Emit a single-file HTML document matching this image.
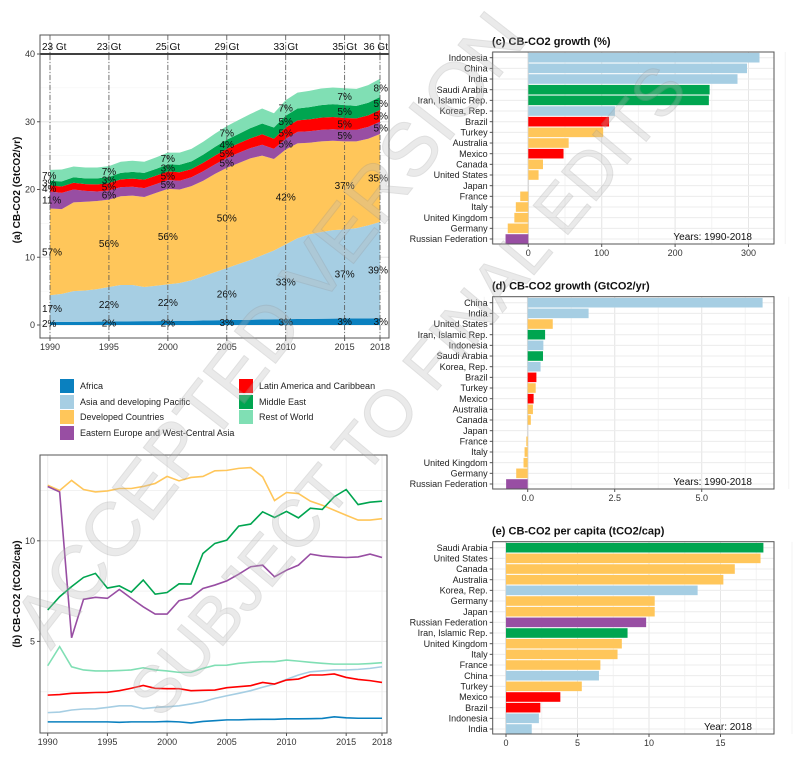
<!DOCTYPE html>
<html><head><meta charset="utf-8"><style>
html,body{margin:0;padding:0;background:#fff;overflow:hidden}
svg{display:block;font-family:"Liberation Sans",Arial,sans-serif}
</style></head><body>
<svg id="fig" width="795" height="784" viewBox="0 0 795 784" xmlns="http://www.w3.org/2000/svg"></svg>
<script>
const years=[];for(let y=1990;y<=2018;y++)years.push(y);
const regions=["Africa","Asia and developing Pacific","Developed Countries","Eastern Europe and West-Central Asia","Latin America and Caribbean","Middle East","Rest of World"];
const regionColors=["#0a80bf","#a6cee3","#ffc65a","#984ea3","#ff0000","#00a550","#80dfb4"];
// Panel (a) absolute emissions GtCO2/yr
const africaA=[0.45,0.46,0.47,0.48,0.5,0.52,0.53,0.55,0.57,0.58,0.6,0.62,0.63,0.66,0.7,0.73,0.75,0.78,0.82,0.84,0.86,0.88,0.9,0.92,0.95,0.96,0.97,0.98,1.0];
const asiaA=[3.95,4.14,4.53,4.62,4.8,5.08,5.37,5.35,5.03,5.22,5.4,5.58,5.97,6.54,7.1,7.67,8.25,8.82,9.48,10.16,11.04,11.92,12.5,12.78,13.05,13.14,13.33,13.72,14.2];
const devA=[12.8,12.5,13.1,13.1,13.0,12.9,13.1,13.2,13.3,13.7,14.1,13.8,13.9,14.1,14.5,14.8,14.9,15.0,14.7,13.5,14.0,14.0,13.5,13.4,13.2,13.0,12.8,12.8,13.0];
const eecaA=[2.5,2.4,1.9,1.6,1.4,1.35,1.35,1.3,1.3,1.3,1.3,1.3,1.3,1.4,1.4,1.45,1.5,1.5,1.6,1.5,1.6,1.7,1.7,1.7,1.7,1.7,1.7,1.75,1.8];
const latamA=[0.9,0.95,1.0,1.0,1.05,1.1,1.15,1.2,1.25,1.25,1.25,1.25,1.2,1.25,1.3,1.35,1.4,1.45,1.55,1.5,1.65,1.7,1.75,1.8,1.8,1.75,1.7,1.7,1.75];
const meA=[0.7,0.75,0.8,0.85,0.9,0.9,0.95,1.0,1.0,1.0,1.05,1.1,1.15,1.2,1.3,1.35,1.4,1.5,1.6,1.65,1.75,1.75,1.8,1.85,1.9,1.9,1.85,1.85,1.9];
const rowA=[1.6,1.75,1.6,1.6,1.6,1.6,1.65,1.65,1.65,1.7,1.75,1.8,1.85,1.9,1.95,2.0,2.05,2.1,2.2,2.1,2.3,2.35,2.4,2.45,2.45,2.5,2.5,2.6,2.7];
const labelYears=[1990,1995,2000,2005,2010,2015,2018];
const totalLabels=["23 Gt","23 Gt","25 Gt","29 Gt","33 Gt","35 Gt","36 Gt"];
const pct1990=[2,17,57,11,4,3,7],pct1995=[2,22,56,6,5,3,7],pct2000=[2,22,56,5,5,3,7],pct2005=[3,26,50,5,5,4,7],pct2010=[3,33,42,5,5,5,7],pct2015=[3,37,37,5,5,5,7],pct2018=[3,39,35,5,5,5,8];
// Panel (b) per capita tCO2/cap
const africaB=[1.0,1.0,1.0,1.0,1.0,1.0,0.98,1.0,1.0,1.0,1.02,1.0,0.95,1.02,1.06,1.1,1.1,1.12,1.13,1.13,1.15,1.15,1.16,1.17,1.25,1.2,1.18,1.18,1.18];
const asiaB=[1.46,1.49,1.59,1.64,1.65,1.72,1.8,1.8,1.66,1.72,1.75,1.8,1.89,2.0,2.17,2.3,2.42,2.55,2.72,2.88,3.11,3.33,3.49,3.54,3.58,3.58,3.61,3.66,3.74];
const devB=[12.76,12.5,13.0,12.55,12.43,12.48,12.6,12.6,12.7,12.85,13.2,12.98,13.15,13.2,13.48,13.5,13.6,13.64,13.18,12.0,12.4,12.35,11.97,11.77,11.52,11.27,11.03,11.03,11.1];
const eecaB=[12.7,12.43,5.18,7.09,7.19,7.14,7.58,7.14,6.72,6.36,6.36,7.02,7.17,7.63,7.8,8.01,8.34,8.71,8.79,8.21,8.54,8.79,9.34,9.24,9.2,9.17,9.2,9.34,9.17];
const latamB=[2.33,2.36,2.42,2.44,2.46,2.47,2.55,2.67,2.81,2.67,2.65,2.65,2.55,2.57,2.58,2.7,2.75,2.8,2.96,2.88,3.08,3.13,3.33,3.33,3.38,3.21,3.11,3.05,2.96];
const meB=[6.56,7.22,7.72,8.18,8.38,7.65,7.76,7.45,8.05,7.35,7.43,7.86,7.85,9.37,9.87,10.03,10.73,10.83,11.44,11.16,11.46,11.14,11.62,11.56,12.19,12.55,11.8,11.92,11.97];
const rowB=[3.79,4.74,3.74,3.58,3.53,3.53,3.55,3.58,3.69,3.58,3.53,3.46,3.46,3.66,3.81,3.82,3.91,3.96,3.99,3.99,4.07,4.02,3.96,3.91,3.87,3.87,3.87,3.9,3.94];
// Bar panels
const catC=["Indonesia","China","India","Saudi Arabia","Iran, Islamic Rep.","Korea, Rep.","Brazil","Turkey","Australia","Mexico","Canada","United States","Japan","France","Italy","United Kingdom","Germany","Russian Federation"];
const valC=[315,298,285,247,246,118,110,102,55,48,20,14,0,-11,-17,-19,-28,-31];
const regC=[1,1,1,5,5,1,4,2,2,4,2,2,2,2,2,2,2,3];
const catD=["China","India","United States","Iran, Islamic Rep.","Indonesia","Saudi Arabia","Korea, Rep.","Brazil","Turkey","Mexico","Australia","Canada","Japan","France","Italy","United Kingdom","Germany","Russian Federation"];
const valD=[6.75,1.75,0.72,0.5,0.45,0.44,0.37,0.25,0.23,0.17,0.15,0.09,0,-0.04,-0.09,-0.12,-0.33,-0.62];
const regD=[1,1,2,5,1,5,1,4,2,4,2,2,2,2,2,2,2,3];
const catE=["Saudi Arabia","United States","Canada","Australia","Korea, Rep.","Germany","Japan","Russian Federation","Iran, Islamic Rep.","United Kingdom","Italy","France","China","Turkey","Mexico","Brazil","Indonesia","India"];
const valE=[18.0,17.8,16.0,15.2,13.4,10.4,10.4,9.8,8.5,8.1,7.8,6.6,6.5,5.3,3.8,2.4,2.3,1.8];
const regE=[5,2,2,2,1,2,2,3,5,2,2,2,1,2,4,4,1,1];
const ticksC=[0,100,200,300],ticksD=[0,2.5,5],ticksE=[0,5,10,15];

const NS="http://www.w3.org/2000/svg";
const svg=document.getElementById('fig');
function mk(tag,attrs,parent,text){const e=document.createElementNS(NS,tag);for(const k in attrs)e.setAttribute(k,attrs[k]);if(text!==undefined)e.textContent=text;(parent||svg).appendChild(e);return e;}

// ---------- Panel (a) ----------
const gA=mk('g',{});


const ax={x0:40,x1:389,y0:35,y1:338};
const xA=y=>50+(y-1990)*(380-50)/28;
const yA=v=>325-v*6.775;
mk('rect',{x:ax.x0,y:ax.y0,width:ax.x1-ax.x0,height:ax.y1-ax.y0,fill:'#fff'},gA);
[5,15,25,35].forEach(v=>mk('line',{x1:ax.x0,x2:ax.x1,y1:yA(v),y2:yA(v),stroke:'#f2f2f2','stroke-width':0.6},gA));
[0,10,20,30].forEach(v=>mk('line',{x1:ax.x0,x2:ax.x1,y1:yA(v),y2:yA(v),stroke:'#e6e6e6','stroke-width':1},gA));
[1990,1995,2000,2005,2010,2015,2018].forEach(y=>mk('line',{x1:xA(y),x2:xA(y),y1:ax.y0,y2:ax.y1,stroke:'#eaeaea'},gA));
const seriesA=[africaA,asiaA,devA,eecaA,latamA,meA,rowA];
const cum=[];let base=years.map(()=>0);
seriesA.forEach((s,i)=>{const top=base.map((b,j)=>b+s[j]);cum.push({lo:base,hi:top});
  let d='M'+years.map((y,j)=>xA(y)+','+yA(top[j])).join('L');
  for(let j=years.length-1;j>=0;j--)d+='L'+xA(years[j])+','+yA(base[j]);
  const p=mk('path',{d:d+'Z',fill:regionColors[i]},gA);
  
  
  base=top;});
mk('line',{x1:ax.x0,x2:ax.x1,y1:yA(40),y2:yA(40),stroke:'#000','stroke-width':1.5},gA);
labelYears.forEach((y,k)=>{
  const l=mk('line',{x1:xA(y),x2:xA(y),y1:ax.y0,y2:ax.y1,stroke:'#555','stroke-width':0.8,'stroke-dasharray':'5,2,1,2'},gA);
  
  
  const anchor=k==0?'start':(k==labelYears.length-1?'end':'middle');
  const tx=k==0?42:(k==labelYears.length-1?388:xA(y));
  const t=mk('text',{x:tx,y:50,'font-size':10,'text-anchor':anchor,fill:'#111'},gA,totalLabels[k]);
  
  
  const pc=[pct1990,pct1995,pct2000,pct2005,pct2010,pct2015,pct2018][k];
  const j=y-1990;
  pc.forEach((p,i)=>{const mid=(cum[i].lo[j]+cum[i].hi[j])/2;
    const tt=mk('text',{x:tx,y:yA(mid)+3.5,'font-size':10,'text-anchor':anchor,fill:'#111'},gA,p+'%');
    
    });
});
mk('rect',{x:ax.x0,y:ax.y0,width:ax.x1-ax.x0,height:ax.y1-ax.y0,fill:'none',stroke:'#555','stroke-width':1},gA);
[0,10,20,30,40].forEach(v=>{mk('line',{x1:ax.x0-3,x2:ax.x0,y1:yA(v),y2:yA(v),stroke:'#555'},gA);
  mk('text',{x:ax.x0-5,y:yA(v)+3,'font-size':9,'text-anchor':'end',fill:'#333'},gA,v);});
[1990,1995,2000,2005,2010,2015,2018].forEach(y=>{mk('line',{x1:xA(y),x2:xA(y),y1:ax.y1,y2:ax.y1+3,stroke:'#555'},gA);
  mk('text',{x:xA(y),y:ax.y1+12,'font-size':9,'text-anchor':'middle',fill:'#333'},gA,y);});
const tA=mk('text',{transform:'translate(20,190) rotate(-90)','font-size':10,'font-weight':'bold','text-anchor':'middle',fill:'#111'},gA,'(a)   CB-CO2 (GtCO2/yr)');


// ---------- Legend ----------
const gL=mk('g',{});


const legPos=[[60,386],[60,402],[60,417],[60,433],[239,386],[239,402],[239,417]];
regions.forEach((r,i)=>{const g=mk('g',{},gL);
  
  
  mk('rect',{x:legPos[i][0],y:legPos[i][1]-7,width:14,height:14,fill:regionColors[i]},g);
  mk('text',{x:legPos[i][0]+20,y:legPos[i][1]+3,'font-size':9,fill:'#222'},g,r);});

// ---------- Panel (b) ----------
const gB=mk('g',{});


const bx={x0:40,x1:387,y0:455,y1:733};
const xB=y=>47.7+(y-1990)*(382-47.7)/28;
const yB=v=>742-v*20.12;
[2.5,7.5,12.5].forEach(v=>mk('line',{x1:bx.x0,x2:bx.x1,y1:yB(v),y2:yB(v),stroke:'#f2f2f2'},gB));
[5,10].forEach(v=>mk('line',{x1:bx.x0,x2:bx.x1,y1:yB(v),y2:yB(v),stroke:'#e6e6e6'},gB));
[1990,1995,2000,2005,2010,2015,2018].forEach(y=>mk('line',{x1:xB(y),x2:xB(y),y1:bx.y0,y2:bx.y1,stroke:'#ececec'},gB));
[africaB,asiaB,devB,eecaB,latamB,meB,rowB].forEach((s,i)=>{
  const p=mk('polyline',{points:years.map((y,j)=>xB(y)+','+yB(s[j])).join(' '),fill:'none',stroke:regionColors[i],'stroke-width':1.6},gB);
  
  });
mk('rect',{x:bx.x0,y:bx.y0,width:bx.x1-bx.x0,height:bx.y1-bx.y0,fill:'none',stroke:'#555'},gB);
[5,10].forEach(v=>{mk('line',{x1:bx.x0-3,x2:bx.x0,y1:yB(v),y2:yB(v),stroke:'#555'},gB);
  mk('text',{x:bx.x0-5,y:yB(v)+3,'font-size':9,'text-anchor':'end',fill:'#333'},gB,v);});
[1990,1995,2000,2005,2010,2015,2018].forEach(y=>{mk('line',{x1:xB(y),x2:xB(y),y1:bx.y1,y2:bx.y1+3,stroke:'#555'},gB);
  mk('text',{x:xB(y),y:bx.y1+12,'font-size':9,'text-anchor':'middle',fill:'#333'},gB,y);});
const tB=mk('text',{transform:'translate(20,594) rotate(-90)','font-size':10,'font-weight':'bold','text-anchor':'middle',fill:'#111'},gB,'(b)   CB-CO2 (tCO2/cap)');


// ---------- Bar panels ----------
function barPanel(name,title,cats,vals,regs,ticks,minorStep,box,zeroX,pxPerUnit,row0,row1,note,lo,hi){
  const g=mk('g',{});
  
  
  const xS=v=>zeroX+v*pxPerUnit;
  const step=(row1-row0)/(cats.length-1);
  for(let v=lo;v<=hi;v+=minorStep){mk('line',{x1:xS(v),x2:xS(v),y1:box.y0,y2:box.y1,stroke:'#f3f3f3'},g);}
  ticks.forEach(v=>mk('line',{x1:xS(v),x2:xS(v),y1:box.y0,y2:box.y1,stroke:'#e6e6e6'},g));
  cats.forEach((c,i)=>mk('line',{x1:box.x0,x2:box.x1,y1:row0+i*step,y2:row0+i*step,stroke:'#ececec'},g));
  mk('line',{x1:xS(0),x2:xS(0),y1:box.y0,y2:box.y1,stroke:'#d9d9d9','stroke-width':1.5},g);
  cats.forEach((c,i)=>{const y=row0+i*step;const v=vals[i];
    const r=mk('rect',{x:Math.min(xS(0),xS(v)),y:y-step*0.45,width:Math.abs(xS(v)-xS(0)),height:step*0.9,fill:regionColors[regs[i]]},g);
    
    
    mk('line',{x1:box.x0-3,x2:box.x0,y1:y,y2:y,stroke:'#555'},g);
    mk('text',{x:box.x0-5,y:y+3.2,'font-size':9,'text-anchor':'end',fill:'#222'},g,c);});
  mk('rect',{x:box.x0,y:box.y0,width:box.x1-box.x0,height:box.y1-box.y0,fill:'none',stroke:'#555'},g);
  ticks.forEach(v=>{mk('line',{x1:xS(v),x2:xS(v),y1:box.y1,y2:box.y1+3,stroke:'#555'},g);
    mk('text',{x:xS(v),y:box.y1+12,'font-size':9,'text-anchor':'middle',fill:'#333'},g,name=='panel-d-growth-abs'?v.toFixed(1):v);});
  const t=mk('text',{x:492,y:box.y0-7,'font-size':11,'font-weight':'bold',fill:'#111'},g,title);
  
  mk('text',{x:box.x1-22,y:box.y1-4,'font-size':10,'text-anchor':'end',fill:'#111'},g,note);
}
barPanel('panel-c-growth-pct','(c)   CB-CO2 growth (%)',catC,valC,regC,ticksC,50,{x0:492.7,x1:774,y0:52,y1:244},528.3,0.734,57.7,239,'Years: 1990-2018',-50,350);
barPanel('panel-d-growth-abs','(d)   CB-CO2 growth (GtCO2/yr)',catD,valD,regD,ticksD,1.25,{x0:492.7,x1:774,y0:296.7,y1:489},527.7,34.8,302.7,484,'Years: 1990-2018',-1.25,7.5);
barPanel('panel-e-per-capita','(e)   CB-CO2 per capita (tCO2/cap)',catE,valE,regE,ticksE,2.5,{x0:492.7,x1:774,y0:541.7,y1:734},506,14.3,547.7,729,'Year: 2018',0,20);

// ---------- Watermark ----------
const gW=mk('g',{opacity:0.3});


mk('text',{transform:'translate(290,345) rotate(-52)','font-size':76,'text-anchor':'middle',fill:'#bbb',stroke:'#999','stroke-width':1},gW,'ACCEPTED VERSION');
mk('text',{transform:'translate(425,405) rotate(-50)','font-size':66,'text-anchor':'middle',fill:'#bbb',stroke:'#999','stroke-width':1},gW,'SUBJECT TO FINAL EDITS');
</script>
</body></html>
